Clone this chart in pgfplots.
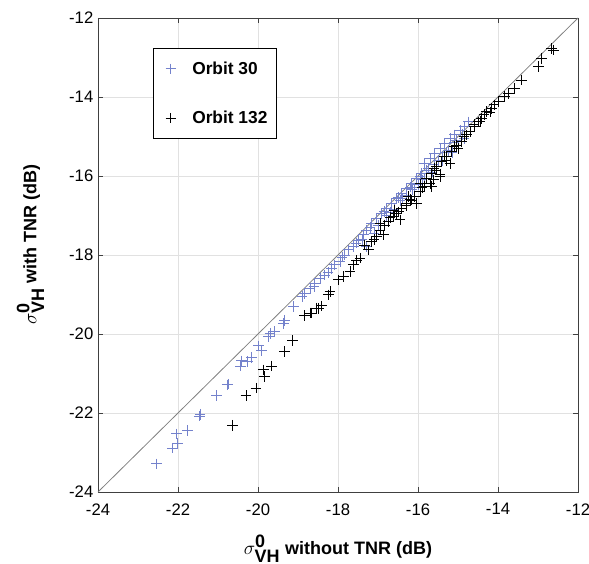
\documentclass[border=0pt]{standalone}
\usepackage{pgfplots}
\pgfplotsset{compat=1.18}
\usepackage{fontspec}
\setmainfont{Liberation Sans}
\definecolor{orbA}{RGB}{116,130,204}
\definecolor{gridc}{RGB}{225,225,225}
\begin{document}
\begin{tikzpicture}
\begin{axis}[
  width=360pt, height=355.5pt, scale only axis,
  xmin=-24, xmax=-12, ymin=-24, ymax=-12,
  xtick={-24,-22,...,-12}, ytick={-24,-22,...,-12},
  grid=major, major grid style={gridc, line width=0.6pt},
  tick align=inside, major tick length=4pt,
  xtick pos=both, ytick pos=both,
  axis line style={black!75, line width=0.6pt},
  tick style={black!75, line width=0.6pt},
  /pgf/number format/assume math mode=true,
  tick label style={font=\fontsize{12.5}{14}\selectfont},
  xticklabel style={yshift=-5pt},
  xlabel={\fontsize{13.5}{15}\selectfont\bfseries $\sigma^{\textbf{0}}_{\textbf{VH}}$ without TNR (dB)},
  ylabel={\fontsize{13.5}{15}\selectfont\bfseries $\sigma^{\textbf{0}}_{\textbf{VH}}$ with TNR (dB)},
  xlabel style={yshift=-8pt},
  ylabel style={yshift=12pt, xshift=8pt},
  legend style={at={(0.115,0.937)}, anchor=north west, draw=black, line width=0.6pt,
    font=\fontsize{13}{15}\selectfont\bfseries, row sep=22pt, inner xsep=5pt, inner ysep=8pt},
  legend cell align=left,
  legend image code/.code={\path[draw=none] (0pt,0pt) -- (22pt,0pt);
     \draw[#1] plot coordinates {(8pt,0pt)};},
]
\coordinate (sw) at (rel axis cs:0,0);
\coordinate (ne) at (rel axis cs:1,1);
\addplot[gray, line width=0.6pt, forget plot] coordinates {(-24,-24) (-12,-12)};
\addplot[only marks, mark=+, mark size=4pt, orbA, mark options={line width=0.7pt}] coordinates {
(-22.53,-23.29) (-22.14,-22.89) (-22.01,-22.78) (-22.03,-22.53) (-21.76,-22.45)
(-21.47,-22.08) (-21.45,-22.03) (-21.03,-21.56) (-20.77,-21.29) (-20.75,-21.27)
(-20.43,-20.81) (-20.41,-20.68) (-20.27,-20.70) (-20.16,-20.59) (-19.99,-20.30)
(-19.91,-20.41) (-19.74,-20.07) (-19.70,-19.98) (-19.58,-19.94) (-19.37,-19.73)
(-19.33,-19.65) (-19.12,-19.31)
(-18.83,-18.97) (-18.70,-18.84) (-18.58,-18.72) (-18.45,-18.59) (-18.33,-18.51)
(-18.16,-18.34) (-18.08,-18.25) (-17.95,-18.17) (-17.83,-18.00) (-17.74,-17.87)
(-17.62,-17.79) (-17.49,-17.62) (-17.37,-17.49) (-17.28,-17.37) (-17.16,-17.20)
(-17.03,-17.07) (-16.91,-16.95) (-16.78,-16.82) (-16.66,-16.69) (-16.53,-16.57)
(-16.41,-16.44) (-16.28,-16.32) (-16.16,-16.19) (-16.04,-16.06) (-15.91,-15.94)
(-17.28,-17.79) (-17.10,-17.45) (-16.95,-17.20) (-16.80,-17.00) (-16.60,-16.85)
(-16.45,-16.62) (-16.30,-16.50) (-16.15,-16.35) (-16.00,-16.22) (-15.90,-16.10)
(-18.90,-19.05) (-18.60,-18.80) (-18.25,-18.45) (-17.90,-18.05) (-17.55,-17.70)
(-17.20,-17.30) (-16.85,-16.90) (-16.50,-16.55) (-16.20,-16.28) (-15.95,-16.00)
(-17.00,-17.25) (-16.70,-16.92) (-16.40,-16.58) (-16.10,-16.30) (-17.40,-17.60)
(-15.83,-15.68) (-15.70,-15.56) (-15.58,-15.43) (-15.45,-15.30) (-15.33,-15.17)
(-15.20,-15.05) (-15.08,-14.96) (-14.95,-14.84) (-14.83,-14.75) (-14.74,-14.63)
(-15.80,-15.85) (-15.60,-15.70) (-15.40,-15.50) (-15.25,-15.35) (-15.10,-15.15)
(-14.90,-14.95) (-15.75,-15.80) (-15.50,-15.60) (-15.30,-15.40) (-15.05,-15.10)
(-15.65,-15.90) (-15.40,-15.62) (-15.15,-15.40) (-15.85,-16.05) (-14.85,-15.05)
};
\addlegendentry{Orbit 30}
\addplot[only marks, mark=+, mark size=4pt, black, mark options={line width=0.7pt}] coordinates {
(-20.63,-22.31) (-20.30,-21.56) (-20.05,-21.37) (-19.83,-21.08) (-19.87,-20.91)
(-19.66,-20.81) (-19.33,-20.45) (-19.13,-20.17) (-18.83,-19.54) (-18.70,-19.47)
(-18.53,-19.35) (-18.41,-19.29)
(-18.66,-19.47) (-18.49,-19.35) (-18.24,-19.01) (-18.20,-18.93) (-17.99,-18.63)
(-17.87,-18.55) (-17.70,-18.42) (-17.62,-18.25) (-17.53,-18.13) (-17.45,-18.08)
(-17.33,-17.75) (-17.24,-17.87) (-17.16,-17.66) (-17.03,-17.54) (-16.95,-17.37)
(-16.83,-17.24) (-16.74,-17.16) (-16.62,-17.03) (-16.49,-16.91) (-16.41,-16.82)
(-16.28,-16.69) (-16.16,-16.61) (-16.08,-16.52) (-15.95,-16.40) (-15.83,-16.27)
(-15.70,-16.19) (-15.62,-16.10) (-15.45,-15.97) (-15.66,-16.27) (-16.04,-16.69)
(-16.45,-17.11) (-16.87,-17.49) (-17.10,-17.60) (-16.70,-17.05) (-16.30,-16.75)
(-15.90,-16.30) (-16.55,-16.95) (-16.20,-16.60) (-16.95,-17.20) (-16.60,-16.88)
(-16.25,-16.52) (-15.95,-16.20) (-15.55,-15.85) (-15.30,-15.60) (-15.00,-15.30)
(-12.66,-12.77) (-12.62,-12.81) (-12.91,-13.02) (-12.99,-13.23) (-13.41,-13.57)
(-13.58,-13.78) (-13.74,-13.91) (-13.83,-13.99) (-13.99,-14.12) (-14.16,-14.29)
(-14.28,-14.37) (-14.41,-14.54) (-14.49,-14.63) (-14.58,-14.75) (-14.70,-14.88)
(-14.78,-14.96) (-14.91,-15.13) (-15.03,-15.22) (-15.16,-15.38) (-15.28,-15.51)
(-15.41,-15.64) (-15.53,-15.76) (-15.66,-15.93) (-15.78,-16.06) (-15.45,-16.02)
(-15.20,-15.68) (-14.10,-14.20) (-14.35,-14.45) (-14.60,-14.70) (-14.85,-15.00)
(-15.10,-15.25) (-15.35,-15.50) (-15.60,-15.80) (-14.20,-14.38) (-14.45,-14.62)
};
\addlegendentry{Orbit 132}
\end{axis}
\pgfresetboundingbox
\path[use as bounding box] ([shift={(-73.5pt,-54pt)}]sw) rectangle ([shift={(8.25pt,13.5pt)}]ne);
\end{tikzpicture}
\end{document}
